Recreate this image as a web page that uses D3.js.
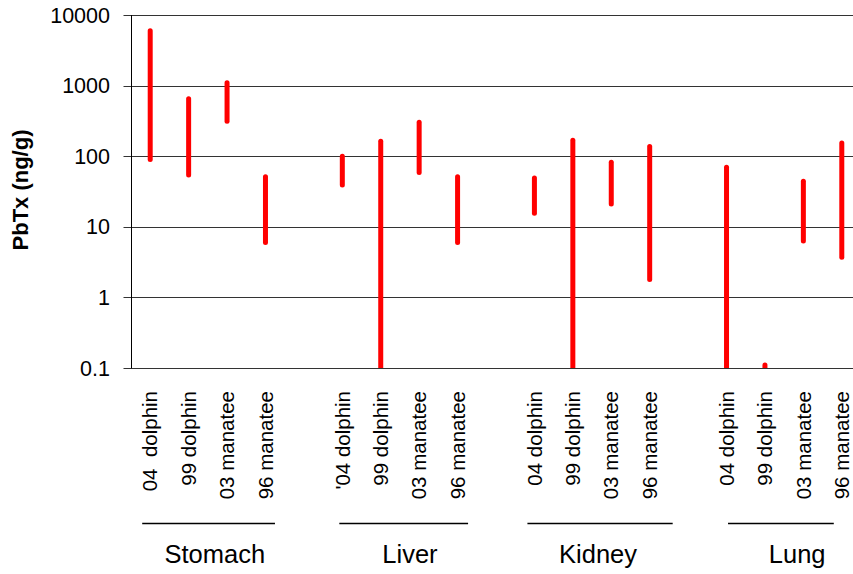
<!DOCTYPE html>
<html>
<head>
<meta charset="utf-8">
<script src="https://d3js.org/d3.v7.min.js"></script>
<style>
  body { margin: 0; background: #fff; }
  svg { display: block; font-family: 'Liberation Sans', Arial, sans-serif; }
  .tick-label { font-size: 21.5px; fill: #000; }
  .cat-label { font-size: 20.5px; fill: #000; white-space: pre; }
  .group-label { font-size: 25.5px; fill: #000; }
  .y-title { font-size: 22px; font-weight: bold; fill: #000; }
</style>
</head>
<body>
<div id="chart"></div>
<script>
  // tissue groups and the sample labels under each one
  var groups = ['Stomach', 'Liver', 'Kidney', 'Lung'];
  var sampleLabels = [
    ['04  dolphin', '99 dolphin', '03 manatee', '96 manatee'],
    ["'04 dolphin", '99 dolphin', '03 manatee', '96 manatee'],
    ['04 dolphin', '99 dolphin', '03 manatee', '96 manatee'],
    ['04 dolphin', '99 dolphin', '03 manatee', '96 manatee']
  ];

  // PbTx range (ng/g), high and low end of each line, per group
  var highValues = [
    [6000, 650, 1100, 51],
    [100, 163, 302, 51],
    [49, 168, 82, 137],
    [70, 0.11, 44, 154]
  ];
  var lowValues = [
    [90, 54, 312, 6.0],
    [39, 0.1, 59, 6.0],
    [15.5, 0.1, 21, 1.8],
    [0.1, 0.1, 6.3, 3.7]
  ];

  var yTicks = [0.1, 1, 10, 100, 1000, 10000];

  // hand drawn bracket lines under each group (pixel nudges from first/last sample)
  var bracketNudge = [[-8, 9.5, 7], [-3, 10.5, 10], [-7, 23, 6], [1.5, -8, 13]];

  var width = 853, height = 574;
  var plotTop = 15, plotBottom = 368, plotLeft = 131.5;

  var svg = d3.select('#chart').append('svg')
    .attr('width', width)
    .attr('height', height);

  // one band per sample plus an empty band between groups
  var keys = [];
  groups.forEach(function (g, gi) {
    sampleLabels[gi].forEach(function (s, si) { keys.push(g + '|' + si); });
    if (gi < groups.length - 1) keys.push('gap' + gi);
  });

  var x = d3.scaleBand().domain(keys).range([131, 861]);
  var cx = function (k) { return x(k) + x.bandwidth() / 2; };

  var y = d3.scaleLog().domain([0.1, 10000]).range([plotBottom, plotTop]);

  // gridlines
  svg.append('g').selectAll('line')
    .data(yTicks)
    .enter().append('line')
      .attr('x1', plotLeft - 8)
      .attr('x2', width)
      .attr('y1', function (d) { return Math.round(y(d)) + 0.5; })
      .attr('y2', function (d) { return Math.round(y(d)) + 0.5; })
      .attr('stroke', '#333')
      .attr('stroke-width', 1);

  // y tick labels
  svg.append('g').selectAll('text')
    .data(yTicks)
    .enter().append('text')
      .attr('class', 'tick-label')
      .attr('x', 110)
      .attr('y', function (d) { return y(d); })
      .attr('dy', '0.35em')
      .attr('text-anchor', 'end')
      .text(function (d) { return d3.format('~g')(d); });

  // clip the range lines to the plot area
  svg.append('clipPath').attr('id', 'plotclip')
    .append('rect')
      .attr('x', plotLeft).attr('y', 0)
      .attr('width', width - plotLeft).attr('height', plotBottom + 0.5);

  var rows = [];
  groups.forEach(function (g, gi) {
    sampleLabels[gi].forEach(function (s, si) {
      rows.push({ key: g + '|' + si, label: s, hi: highValues[gi][si], lo: lowValues[gi][si] });
    });
  });

  svg.append('g').attr('clip-path', 'url(#plotclip)')
    .selectAll('line')
    .data(rows)
    .enter().append('line')
      .attr('x1', function (d) { return cx(d.key); })
      .attr('x2', function (d) { return cx(d.key); })
      .attr('y1', function (d) { return y(d.lo); })
      .attr('y2', function (d) { return y(d.hi); })
      .attr('stroke', '#ff0000')
      .attr('stroke-width', 5)
      .attr('stroke-linecap', 'round');

  // axis lines
  svg.append('line')
    .attr('x1', plotLeft).attr('x2', plotLeft)
    .attr('y1', plotTop).attr('y2', plotBottom + 0.5)
    .attr('stroke', '#000');
  svg.append('line')
    .attr('x1', plotLeft).attr('x2', width)
    .attr('y1', Math.round(y(0.1)) + 0.5).attr('y2', Math.round(y(0.1)) + 0.5)
    .attr('stroke', '#333');

  // sample labels, rotated
  svg.append('g').selectAll('text')
    .data(rows)
    .enter().append('text')
      .attr('class', 'cat-label')
      .attr('transform', function (d) { return 'translate(' + cx(d.key) + ',391) rotate(-90)'; })
      .attr('dy', '0.35em')
      .attr('text-anchor', 'end')
      .text(function (d) { return d.label; });

  // group brackets and names
  groups.forEach(function (g, gi) {
    var first = cx(g + '|0');
    var last = cx(g + '|' + (sampleLabels[gi].length - 1));
    var nd = bracketNudge[gi];
    svg.append('line')
      .attr('x1', first + nd[0]).attr('x2', last + nd[1])
      .attr('y1', 523.5).attr('y2', 523.5)
      .attr('stroke', '#000')
      .attr('stroke-width', 1.3);
    svg.append('text')
      .attr('class', 'group-label')
      .attr('x', (first + last) / 2 + nd[2])
      .attr('y', 563)
      .attr('text-anchor', 'middle')
      .text(g);
  });

  // y axis title
  svg.append('text')
    .attr('class', 'y-title')
    .attr('transform', 'translate(28,190) rotate(-90)')
    .attr('text-anchor', 'middle')
    .text('PbTx (ng/g)');
</script>
</body>
</html>
